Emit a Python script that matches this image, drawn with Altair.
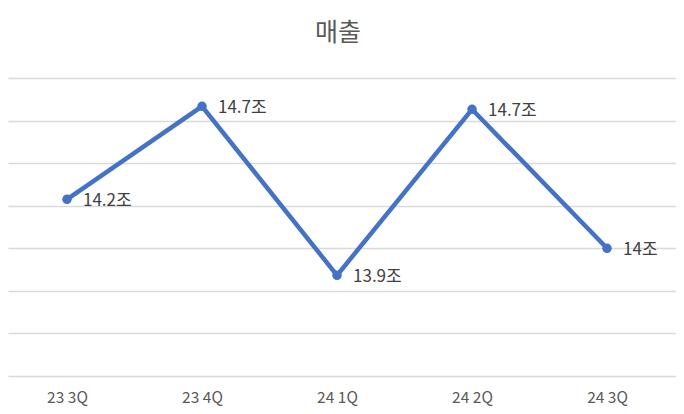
import altair as alt
import pandas as pd

quarters = ["23 3Q", "23 4Q", "24 1Q", "24 2Q", "24 3Q"]
sales = [14.23, 14.667, 13.873, 14.653, 14.0]
labels = ["14.2조", "14.7조", "13.9조", "14.7조", "14조"]
grid_values = [13.4, 13.6, 13.8, 14.0, 14.2, 14.4, 14.6, 14.8]

df = pd.DataFrame({"quarter": quarters, "sales": sales, "label": labels})

FONT = "Noto Sans CJK KR"

x = alt.X(
    "quarter:N",
    sort=quarters,
    scale=alt.Scale(type="point", padding=0.474, align=0.461),
    axis=alt.Axis(
        title=None, ticks=False, domain=False, grid=False,
        labelAngle=0, labelFont=FONT, labelFontSize=15.5,
        labelColor="#595959", labelPadding=14,
    ),
)
y = alt.Y(
    "sales:Q",
    scale=alt.Scale(domain=[13.4, 14.8], nice=False, zero=False),
    axis=alt.Axis(
        title=None, labels=False, ticks=False, domain=False,
        values=grid_values, grid=True, gridColor="#D9D9D9", gridWidth=1.5,
    ),
)

base = alt.Chart(df)

line = base.mark_line(color="#4472C4", strokeWidth=4.5).encode(x=x, y=y)
points = base.mark_circle(color="#4472C4", size=90, opacity=1).encode(x=x, y=y)
text = base.mark_text(
    align="left", baseline="middle", dx=16, dy=2,
    font=FONT, fontSize=17, color="#404040",
).encode(x=x, y=y, text="label:N")

chart = (
    alt.layer(line, points, text)
    .properties(
        width=668,
        height=298,
        title=alt.TitleParams(
            "매출", font=FONT, fontSize=25, fontWeight="normal",
            color="#595959", anchor="middle", baseline="alphabetic",
            offset=12, dx=-4,
        ),
        autosize=alt.AutoSizeParams(type="none"),
        padding={"left": 0, "top": 70, "right": 0, "bottom": 30},
    )
    .configure_view(stroke=None)
)

chart.save("out.html", embed_options={"renderer": "svg", "actions": False})
